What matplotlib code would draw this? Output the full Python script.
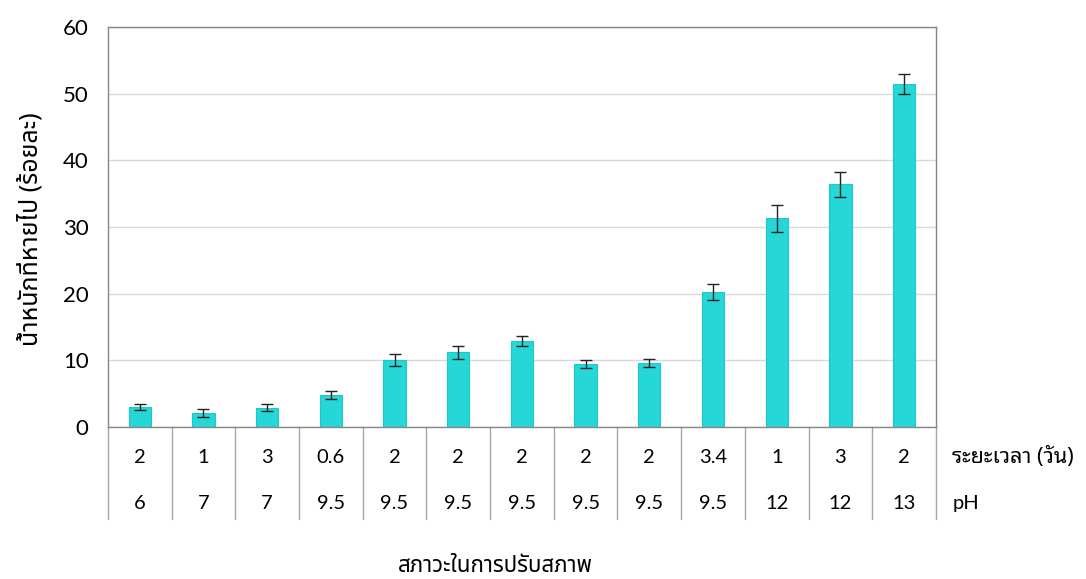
import matplotlib
matplotlib.use('Agg')
import matplotlib.pyplot as plt
import matplotlib.transforms as mtransforms

# weight loss (%) for each pretreatment condition
duration_days = ['2', '1', '3', '0.6', '2', '2', '2', '2', '2', '3.4', '1', '3', '2']
ph_values = ['6', '7', '7', '9.5', '9.5', '9.5', '9.5', '9.5', '9.5', '9.5', '12', '12', '13']
weight_loss = [3.0, 2.1, 2.9, 4.8, 10.0, 11.2, 12.9, 9.4, 9.6, 20.3, 31.3, 36.4, 51.4]
loss_err = [0.5, 0.6, 0.5, 0.6, 0.9, 1.0, 0.7, 0.6, 0.6, 1.2, 2.0, 1.9, 1.5]

num_font = ['Lato', 'Noto Sans Thai']
thai_font = ['Noto Sans Thai', 'DejaVu Sans']
loop_font = ['Noto Sans Thai Looped', 'Noto Sans Thai', 'DejaVu Sans']

fig = plt.figure(figsize=(10.86, 5.79), dpi=100)
ax = fig.add_axes([0.0994, 0.2625, 0.7624, 0.6908])

x = list(range(len(weight_loss)))
ax.bar(x, weight_loss, width=0.35, color='#26d7d7', edgecolor='#1ec8c8',
       linewidth=0.8, zorder=2)
ax.errorbar(x, weight_loss, yerr=loss_err, fmt='none', ecolor='#222222',
            elinewidth=1, capsize=4, capthick=1, zorder=3)

ax.set_xlim(-0.5, len(x) - 0.5)
ax.set_ylim(0, 60)
ax.set_yticks(range(0, 61, 10))
ax.set_xticks([])
ax.yaxis.grid(True, color='#d9d9d9', linewidth=1)
ax.set_axisbelow(True)
ax.tick_params(axis='y', length=0, pad=14, labelsize=16)
for lab in ax.get_yticklabels():
    lab.set_family(num_font)
for sp in ax.spines.values():
    sp.set_color('#868686')
    sp.set_linewidth(1)

# category table under the bars
trans = mtransforms.blended_transform_factory(ax.transData, ax.transAxes)
for i in range(len(x) + 1):
    ax.plot([i - 0.5, i - 0.5], [0, -0.23], transform=trans, color='#a6a6a6',
            linewidth=1, clip_on=False)
for i in x:
    ax.text(i, -0.077, duration_days[i], transform=trans, ha='center',
            va='center', fontsize=14.5, family=num_font)
    ax.text(i, -0.19, ph_values[i], transform=trans, ha='center',
            va='center', fontsize=14.5, family=num_font)
ax.text(1.02, -0.077, 'ระยะเวลา (วัน)', transform=ax.transAxes, ha='left',
        va='center', fontsize=15.5, family=loop_font)
ax.text(1.02, -0.19, 'pH', transform=ax.transAxes, ha='left',
        va='center', fontsize=14.5, family=num_font)

fig.text(0.456, 0.021, 'สภาวะในการปรับสภาพ', ha='center', va='center',
         fontsize=16, family=thai_font)
fig.text(0.028, 0.605, 'น้ำหนักที่หายไป (ร้อยละ)', ha='center', va='center',
         rotation=90, fontsize=18, fontweight='bold', family=thai_font)

fig.savefig('out.png', dpi=100)
